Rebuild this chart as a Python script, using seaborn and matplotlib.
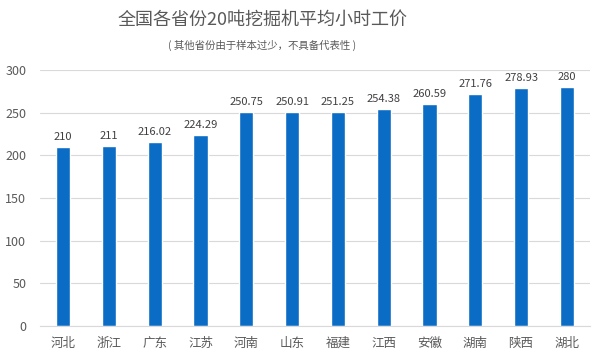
import matplotlib
matplotlib.use('Agg')
import matplotlib.pyplot as plt
import seaborn as sns
import pandas as pd

provinces = ['河北', '浙江', '广东', '江苏', '河南', '山东', '福建', '江西', '安徽', '湖南', '陕西', '湖北']
prices = [210, 211, 216.02, 224.29, 250.75, 250.91, 251.25, 254.38, 260.59, 271.76, 278.93, 280]
labels = ['210', '211', '216.02', '224.29', '250.75', '250.91', '251.25', '254.38', '260.59', '271.76', '278.93', '280']

sns.set_style('white')
plt.rcParams['font.family'] = ['Noto Sans CJK SC', 'DejaVu Sans']

df = pd.DataFrame({'province': provinces, 'price': prices})

fig = plt.figure(figsize=(6, 3.63), dpi=100)
ax = fig.add_axes([0.067, 0.102, 0.916, 0.705])
sns.barplot(data=df, x='province', y='price', color='#0A6CC4', saturation=1, width=0.31, ax=ax)

for i, (v, t) in enumerate(zip(prices, labels)):
    ax.text(i, v + 6, t, ha='center', va='bottom', fontsize=8, color='#404040')

ax.set_ylim(0, 300)
ax.set_yticks(range(0, 301, 50))
ax.yaxis.grid(True, color='#D9D9D9', linewidth=0.8)
ax.set_axisbelow(True)
for s in ['top', 'right', 'left']:
    ax.spines[s].set_visible(False)
ax.spines['bottom'].set_color('#D9D9D9')
ax.tick_params(axis='both', length=0, labelsize=9, colors='#595959')
ax.tick_params(axis='y', pad=10)
ax.tick_params(axis='x', pad=8)
ax.set_xlabel('')
ax.set_ylabel('')

fig.text(0.437, 0.945, '全国各省份20吨挖掘机平均小时工价', ha='center', va='center', fontsize=13, color='#595959')
fig.text(0.437, 0.876, '( 其他省份由于样本过少，不具备代表性 )', ha='center', va='center', fontsize=7.5, color='#595959')

fig.savefig('out.png', dpi=100)
